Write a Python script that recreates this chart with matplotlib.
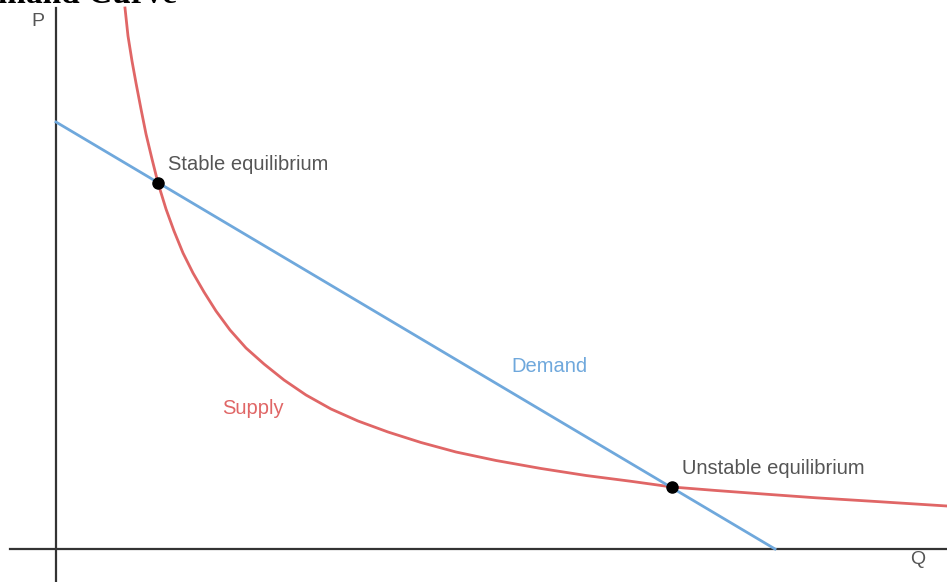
import matplotlib.pyplot as plt
import numpy as np

# Demand line end points (Q, P)
demand_q = [0.0, 7.19]
demand_p = [4.27, 0.0]

# Supply curve (Q, P)
supply_q = [0.69, 0.72, 0.76, 0.80, 0.85, 0.90, 0.96, 1.02, 1.10, 1.18, 1.27,
            1.37, 1.48, 1.60, 1.74, 1.90, 2.08, 2.28, 2.50, 2.75, 3.02, 3.32,
            3.65, 4.00, 4.40, 4.85, 5.30, 5.75, 6.16, 6.60, 7.10, 7.60, 8.20, 8.91]
supply_p = [5.41, 5.13, 4.88, 4.66, 4.40, 4.15, 3.90, 3.66, 3.40, 3.18, 2.96,
            2.76, 2.57, 2.38, 2.19, 2.01, 1.85, 1.69, 1.54, 1.40, 1.28, 1.17,
            1.065, 0.97, 0.885, 0.805, 0.735, 0.677, 0.62, 0.585, 0.548, 0.512,
            0.475, 0.43]

# Equilibria
eq_q = [1.02, 6.16]
eq_p = [3.66, 0.62]
eq_labels = ['Stable equilibrium', 'Unstable equilibrium']

red = '#e06666'
blue = '#6fa8dc'
grey = '#555555'

plt.rcParams['font.family'] = ['Liberation Sans', 'DejaVu Sans']

fig = plt.figure(figsize=(9.47, 5.82), dpi=100)
ax = fig.add_axes([0, 0, 1, 1])
ax.set_xlim(-0.56, 8.91)
ax.set_ylim(-0.33, 5.49)
ax.axis('off')

# Axes lines
ax.plot([-0.46, 8.91], [0, 0], color='#333333', lw=1.6)
ax.plot([0, 0], [-0.33, 5.41], color='#333333', lw=1.6)
ax.text(-0.18, 5.27, 'P', ha='center', va='center', fontsize=14, color=grey)
ax.text(8.62, -0.11, 'Q', ha='center', va='center', fontsize=14, color=grey)

# Curves
ax.plot(supply_q, supply_p, color=red, lw=2, solid_joinstyle='round')
ax.plot(demand_q, demand_p, color=blue, lw=2)

ax.plot(eq_q, eq_p, 'o', color='black', markersize=8, zorder=5)
ax.text(eq_q[0] + 0.1, eq_p[0] + 0.19, eq_labels[0], ha='left', va='center',
        fontsize=14.5, color=grey)
ax.text(eq_q[1] + 0.1, eq_p[1] + 0.18, eq_labels[1], ha='left', va='center',
        fontsize=14.5, color=grey)

ax.text(1.97, 1.41, 'Supply', ha='center', va='center', fontsize=14.5, color=red)
ax.text(4.93, 1.83, 'Demand', ha='center', va='center', fontsize=14.5, color=blue)

# Title cut off at the top of the picture
ax.text(1.21, 5.462, 'Demand Curve', ha='right', va='baseline', fontsize=24,
        fontweight='bold', family=['Liberation Serif', 'DejaVu Serif'],
        color='black', clip_on=False)

fig.savefig('out.png', dpi=100)
